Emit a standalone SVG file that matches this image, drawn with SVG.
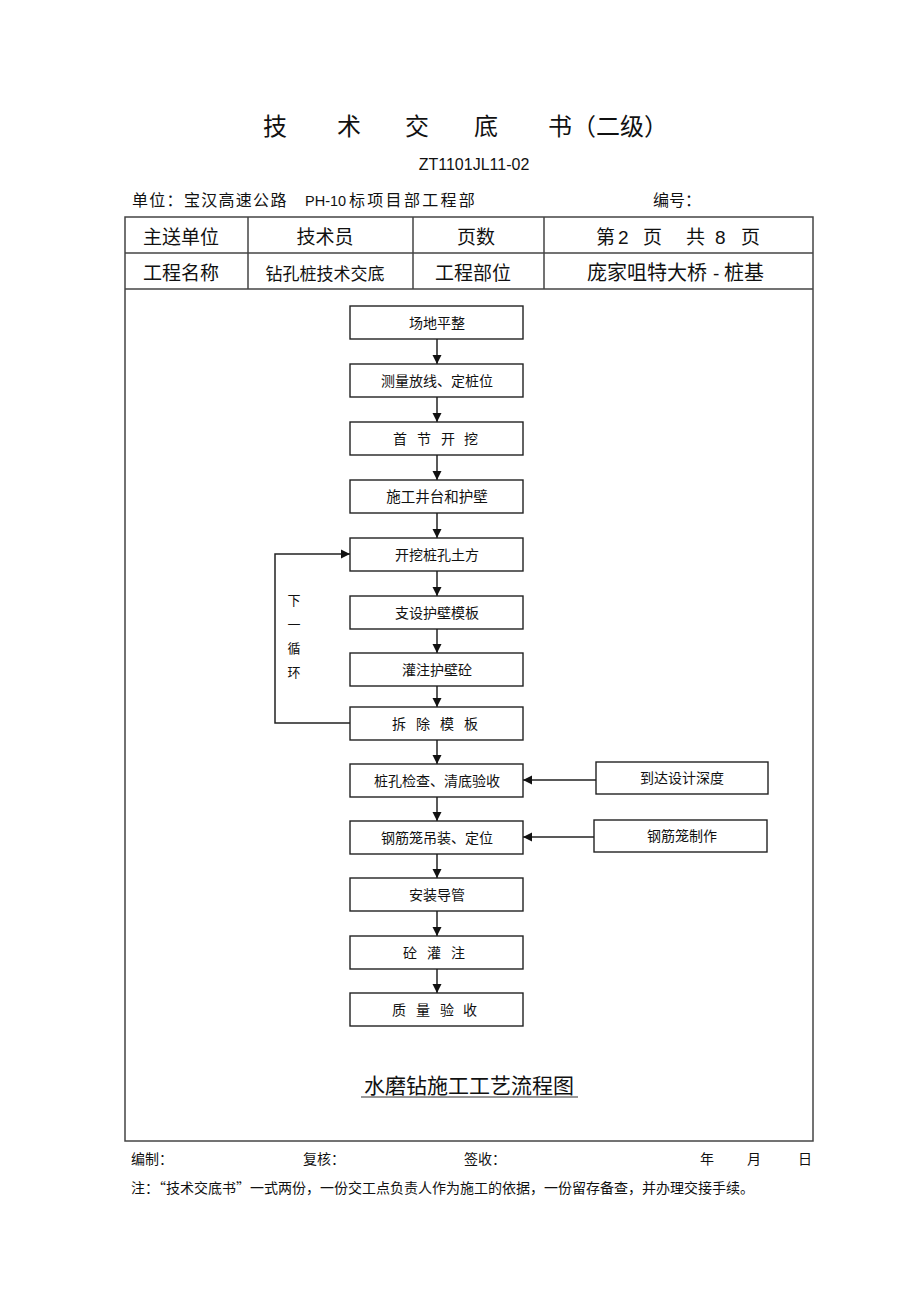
<svg xmlns="http://www.w3.org/2000/svg" width="920" height="1303" viewBox="0 0 920 1303">
<defs>
<marker id="ah" markerWidth="10" markerHeight="10" refX="9" refY="5" orient="auto" markerUnits="userSpaceOnUse">
<path d="M0,0.5 L9,5 L0,9.5 Z" fill="#111"/>
</marker>
<style>
.t{font-family:"Noto Sans CJK SC","Liberation Sans",sans-serif;fill:#111}
.l{font-family:"Liberation Sans",Arial,sans-serif;fill:#111}
.b{fill:#fff;stroke:#222;stroke-width:1.4}
.bt{font-family:"Noto Sans CJK SC",sans-serif;font-size:14px;fill:#111;text-anchor:middle}
.bs{font-family:"Noto Sans CJK SC",sans-serif;font-size:14px;fill:#111}
.ca{fill:none;stroke:#222;stroke-width:1.5;marker-end:url(#ah)}
.tl{stroke:#444;stroke-width:1.5;fill:none}
.h{font-family:"Noto Sans CJK SC","Liberation Sans",sans-serif;font-size:19px;fill:#111;text-anchor:middle}
</style>
</defs>
<rect width="920" height="1303" fill="#fff"/>

<g id="title" class="t" font-size="24">
<text x="263" y="135">技</text>
<text x="337" y="135">术</text>
<text x="405" y="135">交</text>
<text x="474" y="135">底</text>
<text x="548" y="135">书（二级）</text>
</g>
<text class="l" x="474" y="170" font-size="16" text-anchor="middle">ZT1101JL11-02</text>
<g id="header">
<text class="t" x="132" y="206" font-size="16" letter-spacing="1.3">单位：宝汉高速公路</text>
<text class="l" x="305" y="206" font-size="14.5">PH-10</text>
<text class="t" x="349" y="206" font-size="16" letter-spacing="2.3">标项目部工程部</text>
<text class="t" x="653" y="206" font-size="16">编号：</text>
</g>

<g id="table">
<rect class="tl" x="125" y="217" width="688" height="924"/>
<line class="tl" x1="125" y1="253" x2="813" y2="253"/>
<line class="tl" x1="125" y1="289" x2="813" y2="289"/>
<line class="tl" x1="248" y1="217" x2="248" y2="289"/>
<line class="tl" x1="413" y1="217" x2="413" y2="289"/>
<line class="tl" x1="544" y1="217" x2="544" y2="289"/>
<text class="h" x="181" y="244">主送单位</text>
<text class="h" x="325" y="244">技术员</text>
<text class="h" x="476" y="244">页数</text>
<text class="t" x="596" y="244" font-size="19">第</text>
<text class="l" x="618" y="244" font-size="19">2</text>
<text class="t" x="643" y="244" font-size="19">页</text>
<text class="t" x="686" y="244" font-size="19">共</text>
<text class="l" x="715" y="244" font-size="19">8</text>
<text class="t" x="741" y="244" font-size="19">页</text>
<text class="h" x="181" y="280">工程名称</text>
<text class="h" x="325" y="280" style="font-size:17px">钻孔桩技术交底</text>
<text class="h" x="473" y="280">工程部位</text>
<text class="t" x="587" y="280" font-size="20">庞家咀特大桥</text>
<text class="l" x="713" y="280" font-size="19">-</text>
<text class="t" x="724" y="280" font-size="20">桩基</text>
</g>

<g id="connectors">
<line class="ca" x1="437" y1="339" x2="437" y2="364"/>
<line class="ca" x1="437" y1="397" x2="437" y2="422"/>
<line class="ca" x1="437" y1="455" x2="437" y2="480"/>
<line class="ca" x1="437" y1="513" x2="437" y2="538"/>
<line class="ca" x1="437" y1="571" x2="437" y2="596"/>
<line class="ca" x1="437" y1="629" x2="437" y2="653"/>
<line class="ca" x1="437" y1="686" x2="437" y2="707"/>
<line class="ca" x1="437" y1="740" x2="437" y2="764"/>
<line class="ca" x1="437" y1="797" x2="437" y2="821"/>
<line class="ca" x1="437" y1="854" x2="437" y2="878"/>
<line class="ca" x1="437" y1="911" x2="437" y2="936"/>
<line class="ca" x1="437" y1="969" x2="437" y2="993"/>
<polyline class="ca" points="350,723 275,723 275,554 350,554"/>
<line class="ca" x1="596" y1="780" x2="523" y2="780"/>
<line class="ca" x1="594" y1="837" x2="523" y2="837"/>
<g class="t" font-size="13" text-anchor="middle">
<text x="294" y="605">下</text>
<text x="294" y="629">一</text>
<text x="294" y="653">循</text>
<text x="294" y="677">环</text>
</g>
</g>

<g id="n1"><rect class="b" x="350" y="306" width="173" height="33"/><text class="bt" x="437" y="328">场地平整</text></g>
<g id="n2"><rect class="b" x="350" y="364" width="173" height="33"/><text class="bt" x="437" y="386">测量放线、定桩位</text></g>
<g id="n3"><rect class="b" x="350" y="422" width="173" height="33"/><text class="bs" x="393 417 441 464" y="444">首节开挖</text></g>
<g id="n4"><rect class="b" x="350" y="480" width="173" height="33"/><text class="bt" x="437" y="502" style="font-size:14.5px">施工井台和护壁</text></g>
<g id="n5"><rect class="b" x="350" y="538" width="173" height="33"/><text class="bt" x="437" y="560">开挖桩孔土方</text></g>
<g id="n6"><rect class="b" x="350" y="596" width="173" height="33"/><text class="bt" x="437" y="618">支设护壁模板</text></g>
<g id="n7"><rect class="b" x="350" y="653" width="173" height="33"/><text class="bt" x="437" y="675">灌注护壁砼</text></g>
<g id="n8"><rect class="b" x="350" y="707" width="173" height="33"/><text class="bs" x="392 416 440 464" y="729">拆除模板</text></g>
<g id="n9"><rect class="b" x="350" y="764" width="173" height="33"/><text class="bt" x="437" y="786">桩孔检查、清底验收</text></g>
<g id="n10"><rect class="b" x="350" y="821" width="173" height="33"/><text class="bt" x="437" y="843">钢筋笼吊装、定位</text></g>
<g id="n11"><rect class="b" x="350" y="878" width="173" height="33"/><text class="bt" x="437" y="900">安装导管</text></g>
<g id="n12"><rect class="b" x="350" y="936" width="173" height="33"/><text class="bs" x="403 427 451" y="958">砼灌注</text></g>
<g id="n13"><rect class="b" x="350" y="993" width="173" height="33"/><text class="bs" x="392 416 440 463" y="1015">质量验收</text></g>
<g id="s1"><rect class="b" x="596" y="762" width="172" height="32"/><text class="bt" x="682" y="783">到达设计深度</text></g>
<g id="s2"><rect class="b" x="594" y="820" width="173" height="32"/><text class="bt" x="682" y="841">钢筋笼制作</text></g>

<g id="caption">
<text class="t" x="469" y="1093" font-size="21" text-anchor="middle">水磨钻施工工艺流程图</text>
<line x1="361" y1="1097" x2="578" y2="1097" stroke="#333" stroke-width="1.2"/>
</g>

<g id="footer" class="t" font-size="14">
<text x="131" y="1164">编制：</text>
<text x="303" y="1164">复核：</text>
<text x="464" y="1164">签收：</text>
<text x="700" y="1164">年</text>
<text x="747" y="1164">月</text>
<text x="798" y="1164">日</text>
<text x="131" y="1193">注：“技术交底书”一式两份，一份交工点负责人作为施工的依据，一份留存备查，并办理交接手续。</text>
</g>
</svg>
